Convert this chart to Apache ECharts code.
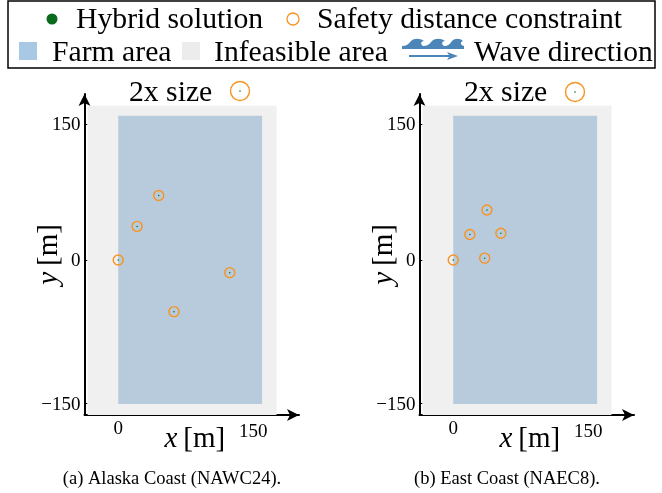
<!DOCTYPE html>
<html><head><meta charset="utf-8">
<style>html,body{margin:0;padding:0;background:#fff}#c{width:662px;height:493px}</style>
<script src="https://cdn.jsdelivr.net/npm/echarts@6/dist/echarts.min.js"></script>
</head><body><div id="c"></div>
<script>
const alaskaX=[0,21,45,62,124];
const alaskaY=[0,37,71,-57,-14];
const eastX=[0,18.5,37.5,53,35];
const eastY=[0,28,55,29.5,2];
const xTickValues=[0,150];
const xTickLabels=['0','150'];
const yTickValues=[-158,0,150];
const yTickLabels=['\u2212150','0','150'];
const farmX=[0,160];
const farmY=[-159,159];
const infeasibleX=[-34,176];
const infeasibleY=[-171,170];
const captions=['(a) Alaska Coast (NAWC24).','(b) East Coast (NAEC8).'];
const legendRow1=['Hybrid solution','Safety distance constraint'];
const legendRow2=['Farm area','Infeasible area','Wave direction'];

const FONT='"Liberation Serif","Times New Roman",serif';
const ORANGE='#f7931e', GREEN='#0b6b1d', FARM='#b8cbdc', GREY='#f0f0f0';
const wave='M402 49 L402 46 C406 46 409 44 411 41 C414 38 420 38 424 41 C421 41 420 44 423 46 C427 46 430 44 432 41 C435 38 441 38 445 41 C442 41 441 44 444 46 C448 46 450 44 452 41 C455 38 460 38 463 41 C460 42 460 45 464 46 L464 49 Z';
const arrowIcon='M409 55 L449 55 L447 52 L458 56 L447 60 L449 57 L409 57 Z';
echarts.graphic.registerShape('waveIcon',echarts.graphic.extendPath(wave));
echarts.graphic.registerShape('arrowIcon',echarts.graphic.extendPath(arrowIcon));
const chart=echarts.init(document.getElementById('c'),null,{renderer:'canvas'});
const pair=(xs,ys)=>xs.map((x,i)=>[x,ys[i]]);
const offs=[0,335];

const txt=(x,y,t,size,align)=>({type:'text',x,y,style:{text:t,font:size+'px '+FONT,fill:'#000',textAlign:align||'left',textVerticalAlign:'middle'}});
const circ=(cx,cy,r,fill,stroke,lw)=>({type:'circle',shape:{cx,cy,r},style:{fill:fill,stroke:stroke,lineWidth:lw||0}});
const rect=(x,y,w,h,fill)=>({type:'rect',shape:{x,y,width:w,height:h},style:{fill}});

const graphics=[
 {type:'rect',shape:{x:8,y:1,width:647,height:67},style:{fill:'#fff',stroke:'#000',lineWidth:1.5}},
 circ(52,19,5.5,GREEN),
 txt(76,20,legendRow1[0],29.7),
 circ(293,19,6,'#fff',ORANGE,1.3),
 txt(317,20,legendRow1[1],29.7),
 rect(19,42,18,18,'#a8c8e4'),
 txt(52,53,legendRow2[0],29.7),
 rect(182,42,18,18,'#ececec'),
 txt(214,53,legendRow2[1],29.7),
 {type:'waveIcon',style:{fill:'#4c86b8'}},
 {type:'arrowIcon',style:{fill:'#4c86b8'}},
 txt(474,53,legendRow2[2],29.5)
];
offs.forEach((o,i)=>{
 graphics.push(txt(129+o,93,'2x size',29.7));
 graphics.push(circ(240+o,91+i,9.5,'#fff',ORANGE,1.4));
 graphics.push(circ(240+o,91+i,0.8,GREEN));
 graphics.push(txt(172+o,479,captions[i],18.5,'center'));
});

const tickLabelFmt=(vals,labels)=>v=>{const k=vals.indexOf(v);return k<0?'':labels[k]};
const nameRich={i:{fontFamily:FONT,fontStyle:'italic',fontSize:29,color:'#000',padding:[0,6,0,0]},n:{fontFamily:FONT,fontSize:29,color:'#000'}};
const xAxes=offs.map((o,i)=>({gridIndex:i,type:'value',min:-37.5,max:201,position:'bottom',
 axisLine:{show:true,onZero:false,symbol:['none','arrow'],symbolSize:[9,12],lineStyle:{color:'#000',width:2}},
 axisTick:{show:true,inside:true,length:3,customValues:xTickValues,lineStyle:{color:'#000',width:1}},
 axisLabel:{customValues:xTickValues,margin:5,color:'#000',fontFamily:FONT,fontSize:19,hideOverlap:false,showMinLabel:true,showMaxLabel:true,
  formatter:v=>v===0?'{a|0}':'{b|'+tickLabelFmt(xTickValues,xTickLabels)(v)+'}',
  rich:{a:{fontFamily:FONT,fontSize:19,color:'#000'},b:{fontFamily:FONT,fontSize:19,color:'#000',padding:[3,0,0,0]}}},
 splitLine:{show:false},
 name:'{i|x}{n|[m]}',nameLocation:'middle',nameGap:10,nameMoveOverlap:false,
 nameTextStyle:{padding:[0,0,0,6],rich:nameRich}
}));
const yAxes=offs.map((o,i)=>({gridIndex:i,type:'value',min:-171,max:183,position:'left',
 axisLine:{show:true,onZero:false,symbol:['none','arrow'],symbolSize:[9,12],lineStyle:{color:'#000',width:2}},
 axisTick:{show:true,inside:true,length:3,customValues:yTickValues,lineStyle:{color:'#000',width:1}},
 axisLabel:{customValues:yTickValues,margin:4,color:'#000',hideOverlap:false,showMinLabel:true,showMaxLabel:true,
  formatter:v=>'{a|'+tickLabelFmt(yTickValues,yTickLabels)(v)+'}',
  rich:{a:{fontFamily:FONT,fontSize:19,color:'#000',padding:[3,0,0,0]}}},
 splitLine:{show:false},
 name:'{i|y}{n|[m]}',nameLocation:'middle',nameGap:21,nameRotate:90,nameMoveOverlap:false,
 nameTextStyle:{padding:[0,0,0,0],rich:nameRich}
}));
const area=(xr,yr,color)=>[{coord:[xr[0],yr[1]],itemStyle:{color,opacity:1}},{coord:[xr[1],yr[0]]}];
const series=[];
[[alaskaX,alaskaY],[eastX,eastY]].forEach((d,i)=>{
 series.push({type:'scatter',xAxisIndex:i,yAxisIndex:i,data:pair(d[0],d[1]),symbol:'circle',symbolSize:10,z:3,silent:true,
  itemStyle:{color:'rgba(0,0,0,0)',borderColor:ORANGE,borderWidth:1.4,opacity:1},
  markArea:{silent:true,z:1,data:[area(infeasibleX,infeasibleY,GREY),area(farmX,farmY,FARM)]}});
 series.push({type:'scatter',xAxisIndex:i,yAxisIndex:i,data:pair(d[0],d[1]),symbol:'circle',symbolSize:1.5,z:4,silent:true,
  itemStyle:{color:GREEN,opacity:1}});
});
chart.setOption({
 animation:false,backgroundColor:'#fff',
 grid:offs.map(o=>({left:84.5+o,width:214.5,top:94,height:321,containLabel:false})),
 xAxis:xAxes,yAxis:yAxes,series,graphic:{elements:graphics}
});
</script></body></html>
